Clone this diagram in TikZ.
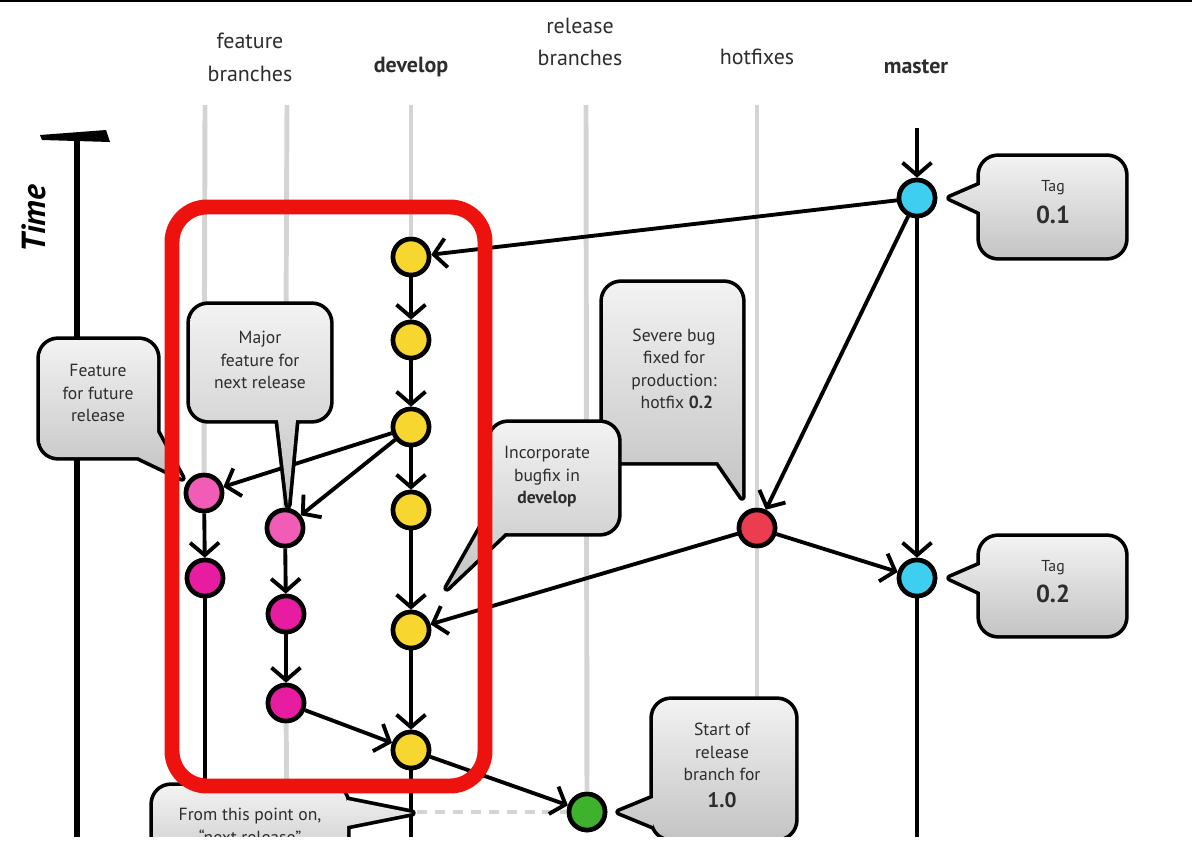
\documentclass[tikz,border=0pt]{standalone}
\usepackage{fontspec}
\setmainfont{PT Sans}
\usetikzlibrary{arrows.meta}
\definecolor{yel}{RGB}{247,214,48}
\definecolor{pinkA}{RGB}{240,92,182}
\definecolor{pinkB}{RGB}{232,28,160}
\definecolor{hotred}{RGB}{236,60,80}
\definecolor{cyanM}{RGB}{62,206,240}
\definecolor{greenR}{RGB}{62,178,44}
\definecolor{boxred}{RGB}{238,18,14}
\definecolor{lanegray}{RGB}{212,212,212}
\definecolor{txt}{RGB}{45,45,45}
\definecolor{cgtop}{RGB}{242,242,242}
\definecolor{cgbot}{RGB}{196,196,196}
\newcommand\mycallout[7]{%
  \path[draw=black,line width=4.2pt,line join=round]
    [rounded corners=0.36cm] ({(#1+#3)/2},#2) -- (#3,#2) -- (#3,#4) -- (#1,#4) -- (#1,#2) -- cycle
    [sharp corners] (#5) -- (#6) -- (#7) -- cycle;
  \path[top color=cgtop,bottom color=cgbot]
    [rounded corners=0.36cm] ({(#1+#3)/2},#2) -- (#3,#2) -- (#3,#4) -- (#1,#4) -- (#1,#2) -- cycle
    [sharp corners] (#5) -- (#6) -- (#7) -- cycle;
}
\begin{document}
\begin{tikzpicture}[x=0.02cm,y=-0.02cm,
  commit/.style={circle,draw=black,line width=2.6pt,minimum size=0.72cm,inner sep=0pt},
  lane/.style={draw=lanegray,line width=2.8pt},
  flow/.style={draw=black,line width=2.2pt,-{Straight Barb[length=0.25cm,width=0.58cm]}},
  plain/.style={draw=black,line width=2.2pt},
  hdr/.style={font=\fontsize{12.5}{18.7}\selectfont,align=center,text=txt,inner sep=0pt},
  note/.style={font=\fontsize{10}{12.8}\selectfont,align=center,text=txt,inner sep=0pt},
  tagsmall/.style={font=\fontsize{9}{11}\selectfont,text=txt,inner sep=0pt},
  tagbig/.style={font=\fontsize{14}{16}\selectfont\bfseries,text=txt,inner sep=0pt}]
\useasboundingbox (0,0) rectangle (1199,852);
\begin{scope}
\clip (0,0) rectangle (1199,836);
% top frame line
\draw[line width=1.2pt] (0,1) -- (1192,1);
% commits (positions)
\node[commit,fill=yel] (d1) at (411,257) {};
\node[commit,fill=yel] (d2) at (411,340) {};
\node[commit,fill=yel] (d3) at (411,427) {};
\node[commit,fill=yel] (d4) at (411,510) {};
\node[commit,fill=yel] (d5) at (411,630) {};
\node[commit,fill=yel] (d6) at (411,750) {};
\node[commit,fill=pinkA] (f1a) at (204,493) {};
\node[commit,fill=pinkB] (f1b) at (205,578) {};
\node[commit,fill=pinkA] (f2a) at (285,528) {};
\node[commit,fill=pinkB] (f2b) at (286,614) {};
\node[commit,fill=pinkB] (f2c) at (286,703) {};
\node[commit,fill=hotred] (h) at (757,528) {};
\node[commit,fill=cyanM] (m1) at (917,198) {};
\node[commit,fill=cyanM] (m2) at (917,578) {};
\node[commit,fill=greenR] (r) at (587,812) {};
\coordinate (mtop) at (917,128);
% lanes
\draw[lane] (205,105) -- (f1a);
\draw[lane] (287,105) -- (f2a);
\draw[lane] (f2c) -- (287,840);
\draw[lane] (411,105) -- (d1);
\draw[lane] (586,105) -- (r);
\draw[lane] (757,105) -- (757,840);
\draw[lanegray,line width=2.4pt,dash pattern=on 5.7pt off 4.5pt] (417,812) -- (r);
% time axis
\fill[black] (40,135) -- (106,130) -- (110,142) -- (42,140) -- cycle;
\draw[line width=3.6pt] (77,138) -- (77,840);
\node[font=\fontsize{19}{19}\selectfont\bfseries\itshape,rotate=90,inner sep=0pt] (time) at (34,219) {Time};
% flows
\draw[flow] (mtop) -- (m1);
\draw[flow] (m1) -- (d1);
\draw[flow] (m1) -- (h);
\draw[flow] (m1) -- (m2);
\draw[flow] (h) -- (m2);
\draw[flow] (h) -- (d5);
\draw[flow] (d1) -- (d2);
\draw[flow] (d2) -- (d3);
\draw[flow] (d3) -- (d4);
\draw[flow] (d4) -- (d5);
\draw[flow] (d5) -- (d6);
\draw[flow] (d3) -- (f1a);
\draw[flow] (d3) -- (f2a);
\draw[flow] (f1a) -- (f1b);
\draw[flow] (f2a) -- (f2b);
\draw[flow] (f2b) -- (f2c);
\draw[flow] (f2c) -- (d6);
\draw[flow] (d6) -- (r);
\draw[plain] (f1b) -- (205,840);
\draw[plain] (d6) -- (411,840);
\draw[plain] (m2) -- (917,840);
% redraw commits on top of lines
\foreach \n/\c in {d1/yel,d2/yel,d3/yel,d4/yel,d5/yel,d6/yel,f1a/pinkA,f1b/pinkB,f2a/pinkA,f2b/pinkB,f2c/pinkB,h/hotred,m1/cyanM,m2/cyanM,r/greenR}
  \path[draw=black,line width=2.6pt,fill=\c] (\n.center) circle[radius=0.36cm];
% callouts
\mycallout{40}{340}{157}{457}{157,432}{182,478}{138,457}
\node[note] (nfut) at (98,393) {Feature\\for future\\release};
\mycallout{190}{305}{330}{420}{278,420}{296,420}{288,505}
\node[note] (nmaj) at (260,360) {Major\\feature for\\next release};
\mycallout{603}{283}{742}{462}{742,440}{742,497}{718,462}
\node[note] (nsev) at (674,369) {Severe bug\\fixed for\\production:\\\,\,hotfix \textbf{0.2}};
\mycallout{490}{423}{618}{533}{490,512}{505,533}{447,588}
\node[note] (ninc) at (547,477) {Incorporate\\bugfix in\\\textbf{develop}};
\mycallout{980}{157}{1125}{257}{950,198}{980,185}{980,212}
\node[tagsmall] (nt1) at (1053,188) {Tag};
\node[tagbig] (nv1) at (1053,215) {0.1};
\mycallout{980}{537}{1125}{635}{950,578}{980,565}{980,592}
\node[tagsmall] (nt2) at (1053,568) {Tag};
\node[tagbig] (nv2) at (1053,594) {0.2};
\mycallout{653}{700}{795}{838}{619,812}{653,798}{653,826}
\node[note] (nst) at (722,752) {Start of\\release\\branch for};
\node[font=\fontsize{12}{14}\selectfont\bfseries,text=txt,inner sep=0pt] (nv3) at (722,800) {1.0};
\mycallout{153}{786}{347}{880}{347,800}{412,813}{347,826}
\node[note] (nfrom) at (250,826) {From this point on,\\“next release”};
% headers
\node[hdr] (hfeat) at (250,57) {feature\\branches};
\node[hdr] (hdev) at (411,67) {\textbf{develop}};
\node[hdr] (hrel) at (580,42) {release\\branches};
\node[hdr] (hhot) at (757,57) {hotfixes};
\node[hdr] (hmas) at (916,67) {\textbf{master}};
% red highlight box
\draw[boxred,line width=8.5pt,rounded corners=0.7cm] (172,207) rectangle (485,786);
\end{scope}
\end{tikzpicture}
\end{document}
